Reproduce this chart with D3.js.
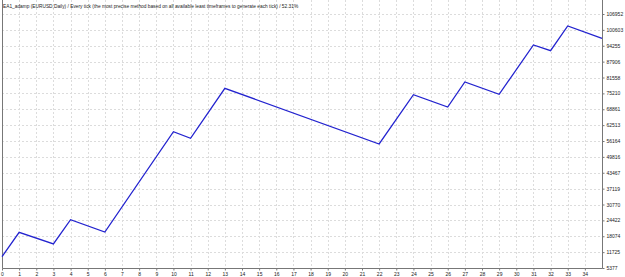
<!DOCTYPE html>
<html>
<head>
<meta charset="utf-8">
<script src="https://cdn.jsdelivr.net/npm/d3@7"></script>
<style>
  body { margin: 0; background: #fff; }
  svg { display: block; }
</style>
</head>
<body>
<div id="chart"></div>
<script>
// title of the optimization graph
var title = "EA1_adamp (EURUSD,Daily) / Every tick (the most precise method based on all available least timeframes to generate each tick) / 52.31%";

// pass number and result at each turning point of the line
var passes = [0, 1, 3, 4, 6, 10, 11, 13, 22, 24, 26, 27, 29, 31, 32, 33, 35];
var results = [9900, 19650, 14980, 24690, 19770, 59890, 57250, 77240, 54970, 74680, 69760, 79760, 74840, 94560, 92280, 102160, 97240];

// axis labels as printed on the chart
var xTicks = d3.range(0, 35);
var yTickLabels = ["5377", "11725", "18074", "24422", "30770", "37119", "43467", "49816", "56164",
                   "62513", "68861", "75210", "81558", "87906", "94255", "100603", "106952"];

var width = 625, height = 277;
var plotLeft = 2, plotRight = 602, plotTop = 14, plotBottom = 268;

var svg = d3.select('#chart').append('svg')
      .attr('width', width)
      .attr('height', height);

var yMin = +yTickLabels[0], yMax = +yTickLabels[yTickLabels.length - 1];
var x = d3.scaleLinear().domain([0, 35]).range([plotLeft, plotRight]);
var y = d3.scaleLinear().domain([yMin, yMax]).range([plotBottom, plotTop]);
var yTicks = yTickLabels.map(function (s, i) { return yMin + i * (yMax - yMin) / (yTickLabels.length - 1); });

//dotted grid
var grid = svg.append('g').attr('stroke', '#dcdcdc').attr('stroke-dasharray', '2,2').attr('stroke-width', 1);
grid.selectAll('line.v').data(xTicks.slice(1)).enter().append('line')
      .attr('x1', function (d) { return Math.round(x(d)) + 0.5; })
      .attr('x2', function (d) { return Math.round(x(d)) + 0.5; })
      .attr('y1', 0).attr('y2', plotBottom);
grid.selectAll('line.h').data(yTicks.slice(1)).enter().append('line')
      .attr('x1', plotLeft).attr('x2', plotRight)
      .attr('y1', function (d) { return Math.round(y(d)) + 0.5; })
      .attr('y2', function (d) { return Math.round(y(d)) + 0.5; });

//title
svg.append('text')
      .attr('x', 3).attr('y', 8)
      .style('font-family', 'Liberation Sans, Arial, sans-serif')
      .style('font-size', '4.8px')
      .style('fill', '#222')
      .text(title);

//axes
var xAxis = d3.axisBottom(x).tickValues(xTicks).tickSize(2).tickFormat(d3.format('d'));
var gx = svg.append('g').attr('transform', 'translate(0,' + (plotBottom + 0.5) + ')').call(xAxis);
gx.select('.domain').remove();
gx.selectAll('line').attr('stroke', '#777');
gx.selectAll('text').attr('y', 4).style('font-family', 'Liberation Sans, Arial, sans-serif')
      .style('font-size', '5px').style('fill', '#222');

var yAxis = d3.axisRight(y).tickValues(yTicks).tickSize(2)
      .tickFormat(function (d, i) { return yTickLabels[i]; });
var gy = svg.append('g').attr('transform', 'translate(' + (plotRight + 0.5) + ',0)').call(yAxis);
gy.select('.domain').remove();
gy.selectAll('line').attr('stroke', '#777');
gy.selectAll('text').attr('x', 4).style('font-family', 'Liberation Sans, Arial, sans-serif')
      .style('font-size', '5px').style('fill', '#222');

//frame
svg.append('path')
      .attr('d', 'M' + (plotLeft + 0.5) + ',0V' + (plotBottom + 0.5) + 'H' + (plotRight + 0.5) + 'V0')
      .attr('fill', 'none').attr('stroke', '#777').attr('stroke-width', 1);

//result line
var line = d3.line()
      .x(function (d) { return x(d[0]); })
      .y(function (d) { return y(d[1]); });
svg.append('path')
      .datum(d3.zip(passes, results))
      .attr('d', line)
      .attr('fill', 'none')
      .attr('stroke', '#2323cf')
      .attr('stroke-width', 1.3);
</script>
</body>
</html>
